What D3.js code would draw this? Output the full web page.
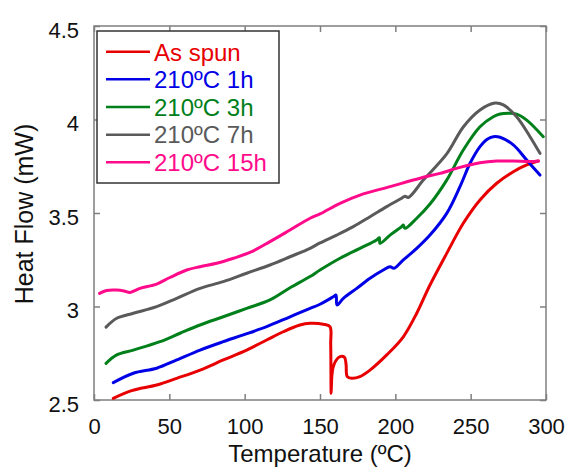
<!DOCTYPE html>
<html><head><meta charset="utf-8">
<script src="https://cdn.jsdelivr.net/npm/d3@7"></script>
<style>body{margin:0;background:#fff}svg{display:block}text{font-family:"Liberation Sans",Arial,sans-serif}</style>
</head><body>
<script>
// Data (Temperature ºC, Heat Flow mW)
const seriesNames = ["As spun", "210ºC 1h", "210ºC 3h", "210ºC 7h", "210ºC 15h"];
const seriesColors = ["#e80000", "#0000e6", "#00801a", "#5a5a5a", "#ff0a8a"];
const asSpun = [[12.8,2.509],[25,2.55],[41.6,2.580],[54.9,2.616],[70.4,2.660],[85.8,2.714],[101.3,2.767],[114.6,2.821],[125.6,2.865],[136.7,2.901],[143.4,2.910],[152.2,2.905],[156.6,2.892],[157.1,2.80],[157.4,2.536],[157.8,2.62],[158.6,2.672],[160.5,2.71],[163.3,2.732],[166.3,2.728],[167.3,2.69],[168.1,2.625],[171.0,2.616],[176.5,2.625],[183.2,2.660],[194.3,2.741],[205.3,2.838],[214.2,2.964],[223.0,3.115],[234.1,3.284],[245.1,3.445],[256.2,3.570],[267.3,3.659],[278.3,3.721],[287.2,3.757],[294.9,3.778]];
const h1 = [[12.8,2.593],[26.1,2.643],[41.6,2.670],[54.9,2.714],[70.4,2.767],[85.8,2.812],[99.1,2.848],[114.6,2.892],[130.1,2.945],[143.4,2.990],[150.0,3.012],[158.8,3.052],[160.6,3.061],[161.3,3.008],[165.5,3.044],[174.4,3.097],[183.2,3.151],[192.0,3.195],[196.5,3.213],[199.1,3.204],[205.3,3.249],[214.2,3.311],[223.0,3.382],[234.1,3.498],[242.9,3.641],[249.6,3.766],[256.2,3.855],[261,3.895],[265.0,3.908],[269.5,3.905],[278.3,3.864],[287.2,3.783],[296.0,3.703]];
const h3 = [[8.0,2.696],[15.1,2.741],[26.1,2.767],[43.8,2.812],[57.1,2.857],[70.4,2.901],[85.8,2.945],[101.3,2.990],[116.8,3.035],[130.1,3.100],[143.4,3.160],[150.0,3.195],[163.3,3.258],[176.5,3.311],[187.6,3.356],[189.4,3.368],[189.8,3.338],[196.5,3.382],[204.2,3.427],[205.3,3.436],[206.4,3.418],[214.2,3.472],[223.0,3.548],[234.1,3.676],[245.1,3.837],[256.2,3.961],[265.0,4.015],[269.5,4.029],[275,4.033],[280.5,4.029],[287.2,3.997],[298.2,3.908]];
const h7 = [[8.0,2.890],[15.1,2.937],[26.1,2.964],[41.6,2.999],[54.9,3.044],[70.4,3.097],[85.8,3.133],[101.3,3.178],[116.8,3.222],[130.1,3.266],[143.4,3.311],[150.0,3.340],[161.1,3.382],[172.1,3.427],[183.2,3.480],[194.3,3.534],[204.2,3.579],[206.4,3.590],[208.6,3.583],[218.6,3.676],[234.1,3.816],[245.1,3.960],[256.2,4.051],[266.1,4.088],[271.7,4.078],[280.5,4.015],[289.4,3.908],[296.0,3.819]];
const h15 = [[3.7,3.070],[8.4,3.086],[15.1,3.088],[19.9,3.083],[23.9,3.075],[30.5,3.097],[41.6,3.120],[50.4,3.155],[61.5,3.195],[70.4,3.213],[81.4,3.231],[92.5,3.258],[103.5,3.289],[116.8,3.347],[130.1,3.409],[143.4,3.472],[150.0,3.495],[163.3,3.552],[176.5,3.596],[196.5,3.641],[216.4,3.686],[229.6,3.712],[242.9,3.744],[256.2,3.769],[267.3,3.778],[278.3,3.778],[289.4,3.775],[294.9,3.778]];
const allSeries = [asSpun, h1, h3, h7, h15];
const xTicks = [0, 50, 100, 150, 200, 250, 300];
const yTicks = [2.5, 3, 3.5, 4, 4.5];
const yTickLabels = ["2.5", "3", "3.5", "4", "4.5"];

const W = 568, H = 467;
const L = 94, R = 546, T = 26, B = 400;
const svg = d3.select("body").append("svg").attr("width", W).attr("height", H);
const x = d3.scaleLinear().domain([0, 300]).range([L, R]);
const y = d3.scaleLinear().domain([2.5, 4.5]).range([B, T]);
const axisColor = "#7f7f7f";
const fs = 22;

// frame
svg.append("rect").attr("x", L).attr("y", T).attr("width", R - L).attr("height", B - T)
  .attr("fill", "none").attr("stroke", axisColor).attr("stroke-width", 1.5);

// ticks (inward, all sides)
const tl = 6;
const bx = svg.append("g").attr("transform", `translate(0,${B})`)
  .call(d3.axisBottom(x).tickValues(xTicks).tickSizeInner(-tl).tickSizeOuter(0).tickPadding(18));
const tx = svg.append("g").attr("transform", `translate(0,${T})`)
  .call(d3.axisTop(x).tickValues(xTicks).tickSizeInner(-tl).tickSizeOuter(0).tickFormat(""));
const ly = svg.append("g").attr("transform", `translate(${L},0)`)
  .call(d3.axisLeft(y).tickValues(yTicks).tickSizeInner(-tl).tickSizeOuter(0).tickPadding(15)
  .tickFormat((d, i) => yTickLabels[i]));
const ry = svg.append("g").attr("transform", `translate(${R},0)`)
  .call(d3.axisRight(y).tickValues(yTicks).tickSizeInner(-tl).tickSizeOuter(0).tickFormat(""));
[bx, tx, ly, ry].forEach(g => {
  g.select(".domain").remove();
  g.selectAll("line").attr("stroke", axisColor).attr("stroke-width", 1.5);
  g.selectAll("text").attr("fill", "#111").style("font-size", fs + "px")
    .style("font-family", '"Liberation Sans",Arial,sans-serif');
});
bx.selectAll("text").attr("dy", "0.71em");
ly.selectAll("text").attr("dy", "0.52em");

// axis titles
svg.append("text").attr("x", (L + R) / 2).attr("y", 461.5).attr("text-anchor", "middle")
  .style("font-size", "24px").attr("fill", "#111").text("Temperature (ºC)");
svg.append("text").attr("transform", `translate(33,${(T + B) / 2 + 1}) rotate(-90)`).attr("text-anchor", "middle")
  .style("font-size", "25px").attr("fill", "#111").text("Heat Flow (mW)");

// lines
const line = d3.line().x(d => x(d[0])).y(d => y(d[1])).curve(d3.curveCatmullRom.alpha(0.5));
allSeries.forEach((s, i) => {
  svg.append("path").datum(s).attr("d", line).attr("fill", "none")
    .attr("stroke", seriesColors[i]).attr("stroke-width", 3)
    .attr("stroke-linejoin", "round").attr("stroke-linecap", "round");
});

// legend
svg.append("rect").attr("x", 97).attr("y", 31).attr("width", 182).attr("height", 152)
  .attr("fill", "#fff").attr("stroke", "#333").attr("stroke-width", 1.5);
seriesNames.forEach((n, i) => {
  const cy = 51.7 + i * 27.65;
  svg.append("line").attr("x1", 106).attr("x2", 150).attr("y1", cy).attr("y2", cy)
    .attr("stroke", seriesColors[i]).attr("stroke-width", 2.5);
  svg.append("text").attr("x", 154).attr("y", cy + 8.8).style("font-size", "24px")
    .attr("fill", seriesColors[i]).text(n);
});
</script>
</body></html>
